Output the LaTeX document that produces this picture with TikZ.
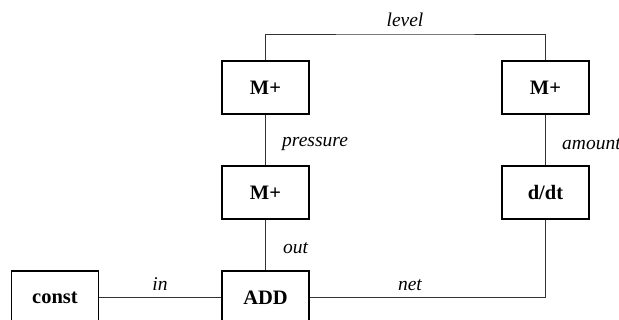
\documentclass[tikz,border=0pt]{standalone}
\usepackage{fontspec}
\setmainfont{Liberation Serif}
\begin{document}
\begin{tikzpicture}[x=1pt,y=-1pt,
  box/.style={draw=black,line width=1.6pt,minimum width=87pt,minimum height=53pt,inner sep=0pt,font=\fontsize{20.5}{23}\selectfont\bfseries},
  wire/.style={draw=black!80,line width=0.9pt},
  lab/.style={font=\fontsize{19.5}{22}\selectfont\itshape,inner sep=0pt}]
\useasboundingbox (0,0) rectangle (619,320);
\node[box] (const) at (55,297.5) {const};
\node[box] (add) at (265.5,297.5) {ADD};
\node[box] (m1) at (265.5,87.5) {M+};
\node[box] (m2) at (545.5,87.5) {M+};
\node[box] (m3) at (265.5,192.5) {M+};
\node[box] (ddt) at (545.5,192.5) {d/dt};
\coordinate (lvl) at (405,34);
\draw[wire] (const.east) -- (add.west);
\draw[wire] (add.north) -- (m3.south);
\draw[wire] (m3.north) -- (m1.south);
\draw[wire] (m1.north) |- (lvl) -| (m2.north);
\draw[wire] (m2.south) -- (ddt.north);
\draw[wire] (add.east) -| (ddt.south);
\node[lab] (tlevel) at (405,20) {level};
\node[lab,anchor=west] (tpress) at (282,144) {pressure};
\node[lab,anchor=west] (tamount) at (562,144) {amount};
\node[lab,anchor=west] (tout) at (283,248) {out};
\node[lab] (tin) at (160,284) {in};
\node[lab] (tnet) at (410,285) {net};
\end{tikzpicture}
\end{document}
